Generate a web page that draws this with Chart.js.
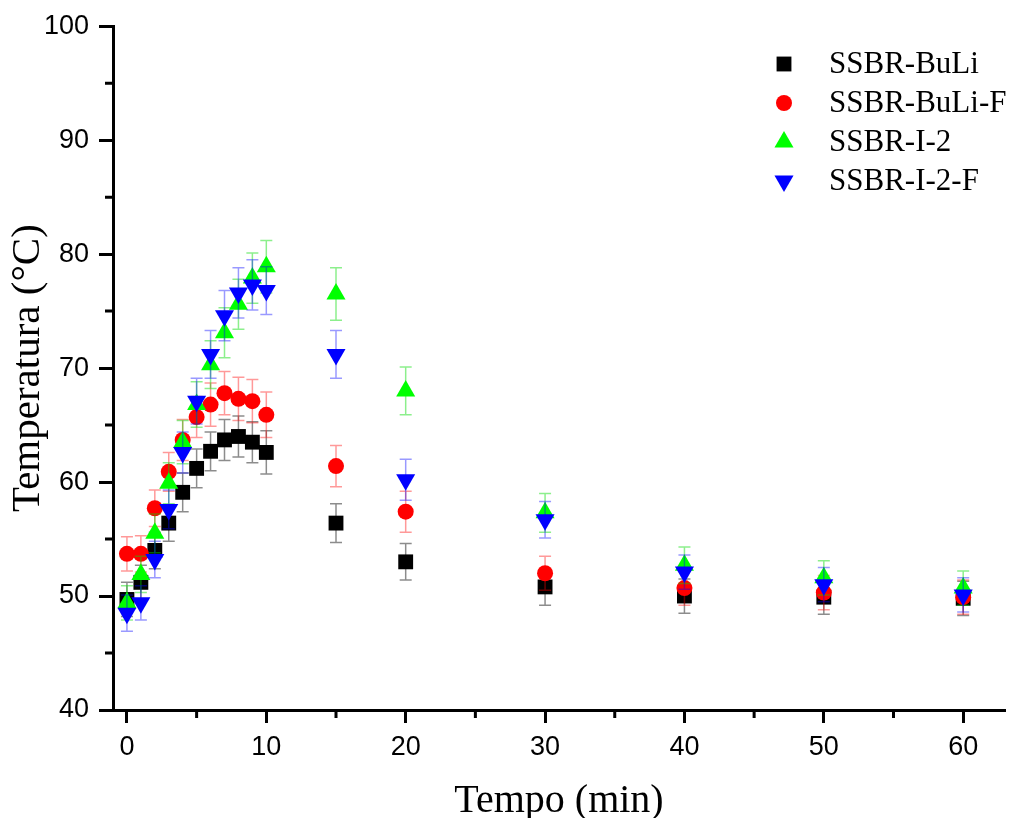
<!DOCTYPE html>
<html>
<head>
<meta charset="utf-8">
<script src="https://cdn.jsdelivr.net/npm/chart.js@4.4.1/dist/chart.umd.min.js"></script>
<style>
  html, body { margin: 0; background: #fff; }
</style>
</head>
<body>
<canvas id="tempChart" width="1019" height="818"></canvas>
<script>
const tempo = [0, 1, 2, 3, 4, 5, 6, 7, 8, 9, 10, 15, 20, 30, 40, 50, 60];

const buli     = [49.7, 51.2, 54.0, 56.4, 59.1, 61.2, 62.7, 63.7, 64.0, 63.5, 62.6, 56.4, 53.0, 50.8, 50.0, 49.9, 49.8];
const buliErr  = [1.5, 1.5, 1.6, 1.6, 1.7, 1.7, 1.7, 1.8, 1.8, 1.8, 1.9, 1.7, 1.6, 1.6, 1.5, 1.5, 1.5];
const buliF    = [53.7, 53.7, 57.7, 60.9, 63.7, 65.7, 66.8, 67.8, 67.3, 67.1, 65.9, 61.4, 57.4, 52.0, 50.7, 50.3, 49.9];
const buliFErr = [1.5, 1.6, 1.6, 1.7, 1.8, 1.8, 1.9, 1.9, 1.9, 1.9, 2.0, 1.8, 1.8, 1.5, 1.5, 1.5, 1.5];
const i2       = [49.4, 51.9, 55.5, 59.9, 63.5, 66.8, 70.3, 73.1, 75.6, 77.9, 78.9, 76.5, 68.0, 57.3, 52.7, 51.6, 50.7];
const i2Err    = [1.5, 1.6, 1.7, 1.8, 1.9, 2.0, 2.1, 2.2, 2.2, 2.2, 2.3, 2.3, 2.1, 1.7, 1.6, 1.5, 1.5];
const i2F      = [48.5, 49.4, 53.2, 57.6, 62.6, 67.1, 71.2, 74.6, 76.6, 77.3, 76.8, 71.2, 60.2, 56.7, 52.1, 51.0, 50.1];
const i2FErr   = [1.6, 1.5, 1.6, 1.7, 1.8, 2.0, 2.1, 2.2, 2.2, 2.2, 2.1, 2.1, 1.8, 1.6, 1.5, 1.5, 1.5];

const xTicks = [0, 10, 20, 30, 40, 50, 60];
const xMinor = [5, 15, 25, 35, 45, 55];
const yTicks = [40, 50, 60, 70, 80, 90, 100];
const yMinor = [45, 55, 65, 75, 85, 95];

const sans = "'Liberation Sans', Arial, sans-serif";
const serif = "'Liberation Serif', 'Times New Roman', serif";

function pts(ys) {
  return tempo.map((t, i) => ({ x: t, y: ys[i] }));
}

const series = [
  { label: "SSBR-BuLi",   data: buli,  err: buliErr,  color: "#000000", bar: "rgba(0,0,0,0.45)",   style: "rect",     radius: 10.5, rot: 0,   order: 3 },
  { label: "SSBR-BuLi-F", data: buliF, err: buliFErr, color: "#ff0000", bar: "rgba(255,0,0,0.4)",  style: "circle",   radius: 8,    rot: 0,   order: 2 },
  { label: "SSBR-I-2",    data: i2,    err: i2Err,    color: "#00ff00", bar: "rgba(0,220,0,0.45)", style: "triangle", radius: 11,   rot: 0,   order: 1 },
  { label: "SSBR-I-2-F",  data: i2F,   err: i2FErr,   color: "#0000ff", bar: "rgba(0,0,255,0.4)",  style: "triangle", radius: 11,   rot: 180, order: 0 }
];

// error bars drawn just under each dataset's own markers
const errorBars = {
  id: "errorBars",
  beforeDatasetDraw(chart, args) {
    const s = series[args.index];
    const xs = chart.scales.x, ys = chart.scales.y;
    const ctx = chart.ctx;
    ctx.save();
    ctx.strokeStyle = s.bar;
    ctx.lineWidth = 1.5;
    s.data.forEach((v, i) => {
      const px = xs.getPixelForValue(tempo[i]);
      const top = ys.getPixelForValue(v + s.err[i]);
      const bot = ys.getPixelForValue(v - s.err[i]);
      ctx.beginPath();
      ctx.moveTo(px, top); ctx.lineTo(px, bot);
      ctx.moveTo(px - 6, top); ctx.lineTo(px + 6, top);
      ctx.moveTo(px - 6, bot); ctx.lineTo(px + 6, bot);
      ctx.stroke();
    });
    ctx.restore();
  }
};

const minorTicks = {
  id: "minorTicks",
  afterDraw(chart) {
    const { ctx, chartArea } = chart;
    const xs = chart.scales.x, ys = chart.scales.y;
    ctx.save();
    ctx.strokeStyle = "#000";
    ctx.lineWidth = 3;
    ctx.beginPath();
    xMinor.forEach(v => {
      const px = xs.getPixelForValue(v);
      ctx.moveTo(px, chartArea.bottom); ctx.lineTo(px, chartArea.bottom + 8);
    });
    yMinor.forEach(v => {
      const py = ys.getPixelForValue(v);
      ctx.moveTo(chartArea.left, py); ctx.lineTo(chartArea.left - 8, py);
    });
    ctx.stroke();
    ctx.restore();
  }
};

const legendBox = {
  id: "legendBox",
  afterDraw(chart) {
    const ctx = chart.ctx;
    const x0 = 784, y0 = 64, gap = 39;
    ctx.save();
    ctx.font = "31px " + serif;
    ctx.textBaseline = "middle";
    series.forEach((s, i) => {
      const y = y0 + i * gap;
      ctx.fillStyle = s.color;
      ctx.strokeStyle = s.color;
      Chart.helpers.drawPoint(ctx, { pointStyle: s.style, radius: s.radius, rotation: s.rot, borderWidth: 0 }, x0, y);
      ctx.fillStyle = "#000";
      ctx.fillText(s.label, 829, y + 1);
    });
    ctx.restore();
  }
};

new Chart(document.getElementById("tempChart"), {
  type: "scatter",
  data: {
    datasets: series.map(s => ({
      label: s.label,
      data: pts(s.data),
      order: s.order,
      pointStyle: s.style,
      pointRadius: s.radius,
      pointRotation: s.rot,
      pointBackgroundColor: s.color,
      pointBorderColor: s.color,
      pointBorderWidth: 0,
      showLine: false,
      clip: false
    }))
  },
  options: {
    responsive: false,
    animation: false,
    layout: { padding: { top: 26, right: 14, left: 0, bottom: 0 } },
    plugins: {
      legend: { display: false },
      tooltip: { enabled: false }
    },
    scales: {
      x: {
        type: "linear",
        min: -1,
        max: 63,
        afterBuildTicks: s => { s.ticks = xTicks.map(v => ({ value: v })); },
        afterFit: s => { s.height = 108; },
        border: { display: true, color: "#000", width: 3 },
        grid: { drawOnChartArea: false, color: "#000", tickLength: 13, tickWidth: 3 },
        ticks: { font: { family: sans, size: 27 }, color: "#000", padding: 8, maxRotation: 0 },
        title: { display: true, text: "Tempo (min)", font: { family: serif, size: 40, lineHeight: 0.85 }, color: "#000", padding: { top: 0, bottom: 0 } }
      },
      y: {
        type: "linear",
        min: 40,
        max: 100,
        afterBuildTicks: s => { s.ticks = yTicks.map(v => ({ value: v })); },
        afterFit: s => { s.width = 113; },
        border: { display: true, color: "#000", width: 3 },
        grid: { drawOnChartArea: false, color: "#000", tickLength: 14, tickWidth: 3 },
        ticks: { font: { family: sans, size: 27 }, color: "#000", padding: 10 },
        title: { display: true, text: "Temperatura (°C)", font: { family: serif, size: 41 }, color: "#000", padding: { top: 4, bottom: 0 } }
      }
    }
  },
  plugins: [errorBars, minorTicks, legendBox]
});
</script>
</body>
</html>
